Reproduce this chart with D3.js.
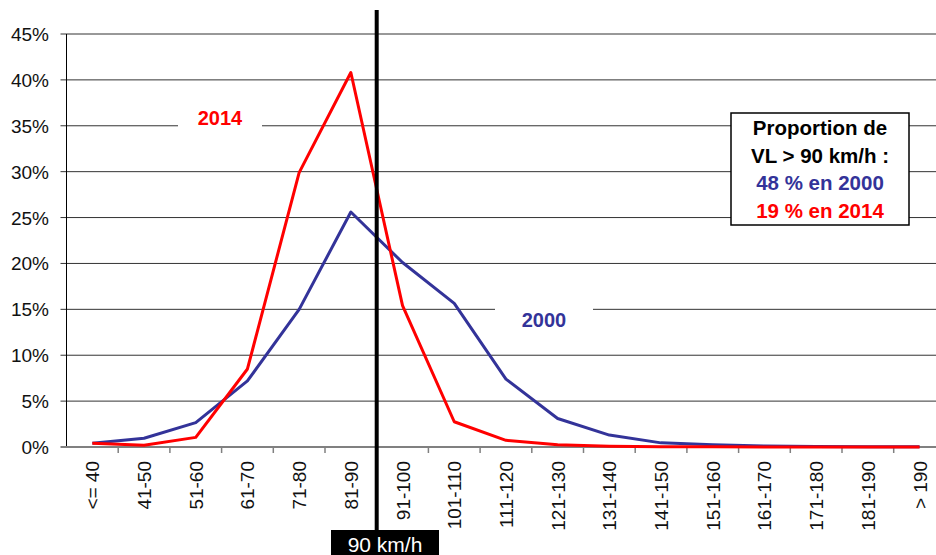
<!DOCTYPE html>
<html>
<head>
<meta charset="utf-8">
<script src="https://cdn.jsdelivr.net/npm/d3@7"></script>
<style>
  html, body { margin: 0; padding: 0; background: #fff; }
  svg { display: block; font-family: "Liberation Sans", Arial, sans-serif; }
</style>
</head>
<body>
<div id="chart"></div>
<script>
(function () {
  var categories = ['<= 40', '41-50', '51-60', '61-70', '71-80', '81-90',
    '91-100', '101-110', '111-120', '121-130', '131-140', '141-150',
    '151-160', '161-170', '171-180', '181-190', '> 190'];
  var values2000 = [0.4, 0.95, 2.65, 7.2, 15.0, 25.6, 20.1, 15.65, 7.4,
    3.1, 1.3, 0.45, 0.25, 0.1, 0.05, 0.03, 0.02];
  var values2014 = [0.4, 0.2, 1.05, 8.5, 29.9, 40.8, 15.4, 2.75, 0.73,
    0.25, 0.08, 0.03, 0.02, 0.01, 0.01, 0.01, 0.01];
  var yTicks = [0, 5, 10, 15, 20, 25, 30, 35, 40, 45];
  var legendLines = [
    {text: 'Proportion de', color: '#000'},
    {text: 'VL > 90 km/h :', color: '#000'},
    {text: '48 % en 2000', color: '#333399'},
    {text: '19 % en 2014', color: '#ff0000'}
  ];

  var width = 936;
  var height = 555;
  var left = 66.5;
  var bottom = 447;
  var top = 34;

  var svg = d3.select('#chart').append('svg')
      .attr('width', width)
      .attr('height', height);

  var x = d3.scaleBand()
      .domain(categories)
      .range([left, left + 17 * 51.7]);

  var y = d3.scaleLinear()
      .domain([0, 45])
      .range([bottom, top]);

  // horizontal grid lines, with the tick stub left of the axis
  svg.append('g')
      .selectAll('line')
      .data(yTicks.slice(1))
      .join('line')
      .attr('x1', left - 6)
      .attr('x2', width)
      .attr('y1', function (d) { return y(d); })
      .attr('y2', function (d) { return y(d); })
      .attr('stroke', '#333')
      .attr('stroke-width', 1);

  // y tick labels
  svg.append('g')
      .selectAll('text')
      .data(yTicks)
      .join('text')
      .attr('x', 49)
      .attr('y', function (d) { return y(d) + 7; })
      .attr('text-anchor', 'end')
      .attr('font-size', 19)
      .attr('fill', '#111')
      .text(function (d) { return d + '%'; });

  // y axis line
  svg.append('line')
      .attr('x1', left).attr('x2', left)
      .attr('y1', top).attr('y2', bottom)
      .attr('stroke', '#000')
      .attr('stroke-width', 1);

  // x axis (grey) with ticks between categories
  svg.append('line')
      .attr('x1', left - 6).attr('x2', width)
      .attr('y1', bottom).attr('y2', bottom)
      .attr('stroke', '#808080')
      .attr('stroke-width', 2);

  svg.append('g')
      .selectAll('line')
      .data(categories.slice(1))
      .join('line')
      .attr('x1', function (d) { return x(d); })
      .attr('x2', function (d) { return x(d); })
      .attr('y1', bottom)
      .attr('y2', bottom + 6)
      .attr('stroke', '#808080')
      .attr('stroke-width', 1.5);

  // rotated category labels
  svg.append('g')
      .selectAll('text')
      .data(categories)
      .join('text')
      .attr('transform', function (d) {
        return 'translate(' + (x(d) + x.bandwidth() / 2 + 7) + ',' +
            (bottom + 14) + ') rotate(-90)';
      })
      .attr('text-anchor', 'end')
      .attr('font-size', 19)
      .attr('fill', '#111')
      .text(function (d) { return d; });

  // series labels on white patches over the grid
  function seriesLabel(text, cx, cy, w, color) {
    svg.append('rect')
        .attr('x', cx - w / 2)
        .attr('y', cy - 12)
        .attr('width', w)
        .attr('height', 24)
        .attr('fill', '#fff');
    svg.append('text')
        .attr('x', cx)
        .attr('y', cy + 7)
        .attr('text-anchor', 'middle')
        .attr('font-size', 20)
        .attr('font-weight', 'bold')
        .attr('fill', color)
        .text(text);
  }
  seriesLabel('2014', 220, 118, 84, '#ff0000');
  seriesLabel('2000', 544, 320, 98, '#333399');

  var line = d3.line()
      .x(function (d, i) { return x(categories[i]) + x.bandwidth() / 2; })
      .y(function (d) { return y(d); });

  svg.append('path')
      .datum(values2000)
      .attr('d', line)
      .attr('fill', 'none')
      .attr('stroke', '#333399')
      .attr('stroke-width', 3)
      .attr('stroke-linejoin', 'round');

  svg.append('path')
      .datum(values2014)
      .attr('d', line)
      .attr('fill', 'none')
      .attr('stroke', '#ff0000')
      .attr('stroke-width', 3)
      .attr('stroke-linejoin', 'round');

  // 90 km/h marker between the 81-90 and 91-100 bands
  var markX = x('91-100');
  svg.append('line')
      .attr('x1', markX).attr('x2', markX)
      .attr('y1', 10).attr('y2', height)
      .attr('stroke', '#000')
      .attr('stroke-width', 4);

  svg.append('rect')
      .attr('x', 331)
      .attr('y', 530)
      .attr('width', 108)
      .attr('height', 25)
      .attr('fill', '#000');
  svg.append('text')
      .attr('x', 385)
      .attr('y', 552)
      .attr('text-anchor', 'middle')
      .attr('font-size', 21)
      .attr('fill', '#fff')
      .text('90 km/h');

  // legend box
  var legend = svg.append('g');
  legend.append('rect')
      .attr('x', 731)
      .attr('y', 113)
      .attr('width', 178)
      .attr('height', 112)
      .attr('fill', '#fff')
      .attr('stroke', '#000')
      .attr('stroke-width', 1.5);
  legend.selectAll('text')
      .data(legendLines)
      .join('text')
      .attr('x', 820)
      .attr('y', function (d, i) { return 135 + i * 27.5; })
      .attr('text-anchor', 'middle')
      .attr('font-size', 20.5)
      .attr('font-weight', 'bold')
      .attr('fill', function (d) { return d.color; })
      .text(function (d) { return d.text; });
}());
</script>
</body>
</html>
